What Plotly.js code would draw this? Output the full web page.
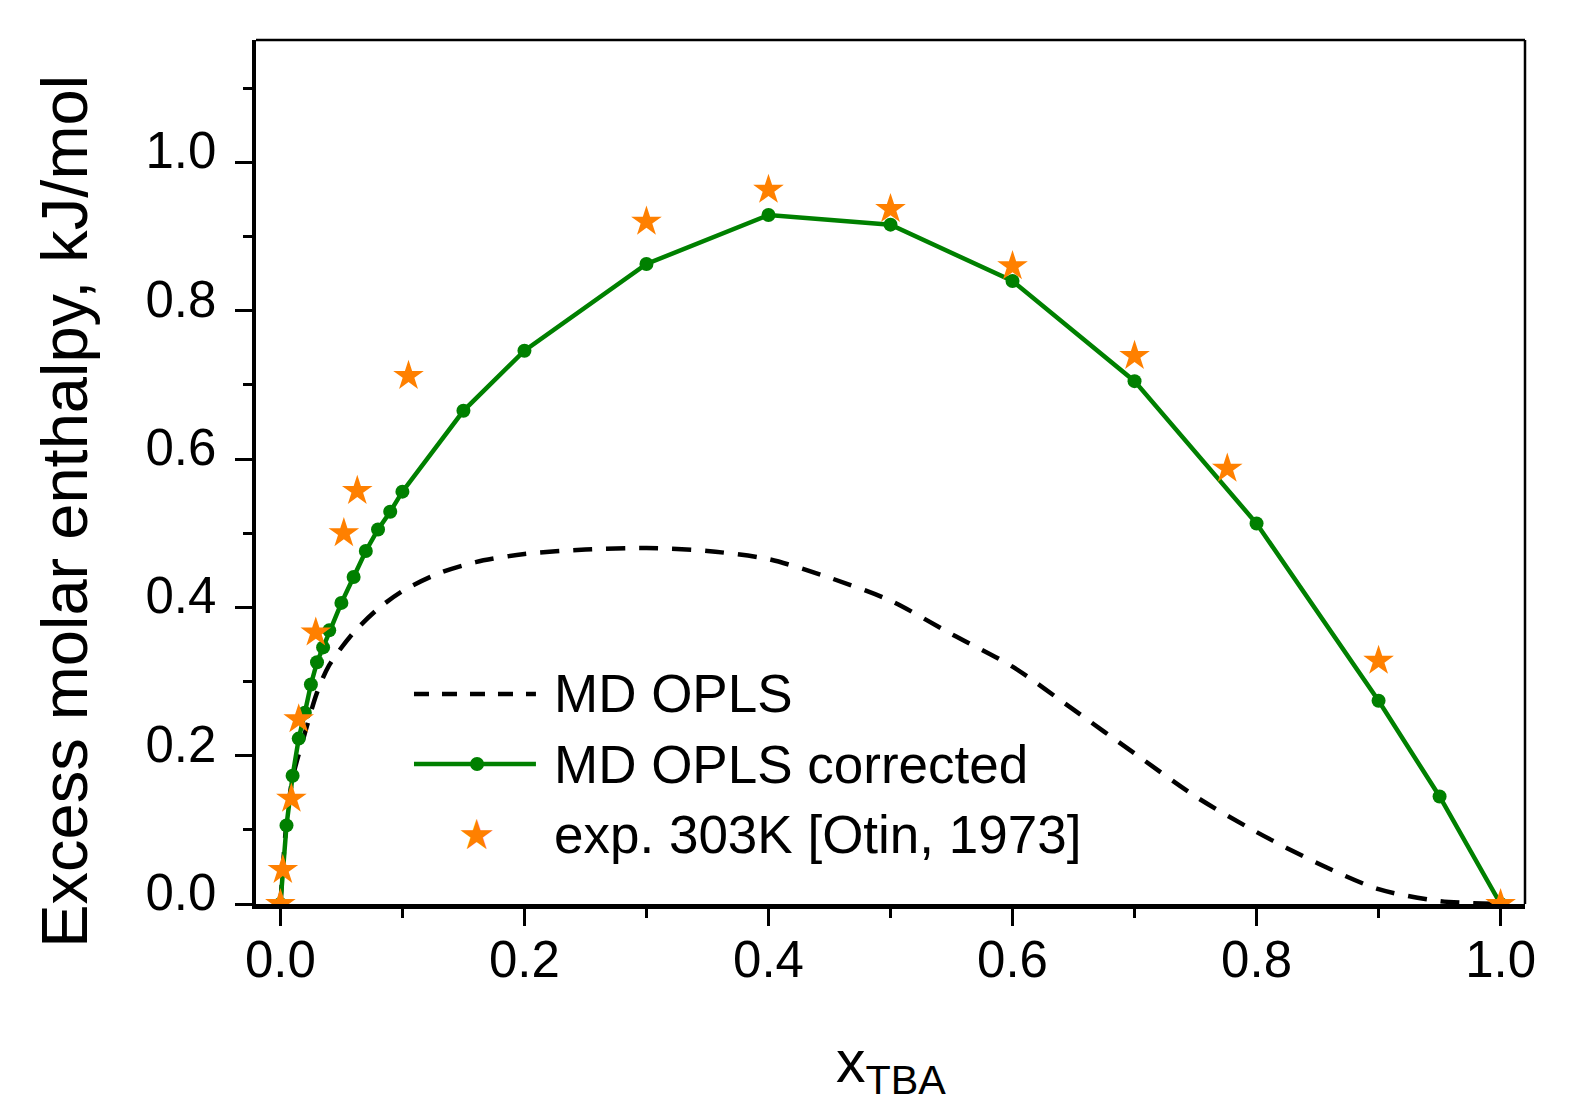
<!DOCTYPE html>
<html><head><meta charset="utf-8">
<script src="https://cdn.plot.ly/plotly-3.0.1.min.js"></script>
<style>html,body{margin:0;padding:0;background:#fff;}#chart{width:1577px;height:1106px;}</style>
</head><body><div id="chart"></div>
<script>
// ---- data ----
const seriesNames = ['MD OPLS', 'MD OPLS corrected', 'exp. 303K [Otin, 1973]'];

const oplsX = [0, 0.005, 0.01, 0.02, 0.03, 0.04, 0.06, 0.08, 0.1, 0.13, 0.16, 0.2, 0.25, 0.3, 0.35, 0.4, 0.45, 0.5, 0.55, 0.6, 0.65, 0.7, 0.75, 0.8, 0.85, 0.9, 0.95, 1.0];
const oplsY = [0, 0.11, 0.17, 0.23, 0.285, 0.322, 0.366, 0.398, 0.422, 0.446, 0.461, 0.472, 0.478, 0.480, 0.476, 0.465, 0.440, 0.409, 0.364, 0.320, 0.262, 0.203, 0.145, 0.097, 0.055, 0.020, 0.004, 0];

const corrX = [0, 0.005, 0.01, 0.015, 0.02, 0.025, 0.03, 0.035, 0.04, 0.05, 0.06, 0.07, 0.08, 0.09, 0.1, 0.15, 0.2, 0.3, 0.4, 0.5, 0.6, 0.7, 0.8, 0.9, 0.95, 1.0];
const corrY = [0, 0.106, 0.173, 0.223, 0.258, 0.296, 0.326, 0.346, 0.369, 0.406, 0.441, 0.476, 0.505, 0.529, 0.556, 0.665, 0.746, 0.863, 0.929, 0.916, 0.840, 0.705, 0.513, 0.274, 0.145, 0];

const expX = [0, 0.002, 0.009, 0.015, 0.029, 0.052, 0.063, 0.105, 0.3, 0.4, 0.5, 0.6, 0.7, 0.776, 0.9, 1.0];
const expY = [0, 0.046, 0.142, 0.249, 0.366, 0.500, 0.557, 0.712, 0.920, 0.963, 0.937, 0.860, 0.739, 0.587, 0.328, 0];

const xTickVals = [0, 0.2, 0.4, 0.6, 0.8, 1.0];
const yTickVals = [0, 0.2, 0.4, 0.6, 0.8, 1.0];
const xTitle = 'x<sub>TBA</sub>';
const yTitle = 'Excess molar enthalpy, kJ/mol';

// ---- styles ----
const FONT = 'Liberation Sans, Arial, Helvetica, sans-serif';
const GREEN = 'rgb(0,128,0)';
const ORANGE = 'rgb(255,128,0)';
const DASH = '19px,14px';

const traces = [
  {x: oplsX, y: oplsY, type: 'scatter', mode: 'lines', name: seriesNames[0],
   line: {color: 'black', width: 4.5, dash: DASH, shape: 'spline', smoothing: 0.8}, showlegend: false},
  {x: corrX, y: corrY, type: 'scatter', mode: 'lines+markers', name: seriesNames[1],
   line: {color: GREEN, width: 4.5}, marker: {color: GREEN, size: 14}, showlegend: false},
  {x: expX, y: expY, type: 'scatter', mode: 'markers', name: seriesNames[2],
   marker: {color: ORANGE, size: 23, symbol: 'star', line: {width: 0}}, showlegend: false}
];

// legend geometry (paper coords)
const lgX0 = 0.1245, lgX1 = 0.2206, lgMid = 0.1742, lgText = 0.2336;
const lgRows = [0.2431, 0.162, 0.0804];

const layout = {
  width: 1577, height: 1106,
  margin: {l: 256, r: 52, t: 40, b: 202, pad: 0},
  paper_bgcolor: 'white', plot_bgcolor: 'white',
  font: {family: FONT, color: 'black', size: 50},
  showlegend: false,
  xaxis: {
    range: [-0.02, 1.02], showgrid: false, zeroline: false,
    showline: true, linecolor: 'black', linewidth: 4.5,
    tickmode: 'array', tickvals: xTickVals, tickformat: '.1f',
    ticks: 'outside', ticklen: 17, tickwidth: 3, tickcolor: 'black',
    ticklabelstandoff: -10,
    tickfont: {family: FONT, size: 51, color: 'black'},
    minor: {dtick: 0.1, ticks: 'outside', ticklen: 9, tickwidth: 3, tickcolor: 'black', showgrid: false}
  },
  yaxis: {
    range: [0, 1.165], showgrid: false, zeroline: false,
    showline: true, linecolor: 'black', linewidth: 4.5,
    tickmode: 'array', tickvals: yTickVals, tickformat: '.1f',
    ticks: 'outside', ticklen: 17, tickwidth: 3, tickcolor: 'black',
    ticklabelstandoff: 8, ticklabelshift: -12,
    tickfont: {family: FONT, size: 51, color: 'black'},
    minor: {dtick: 0.1, ticks: 'outside', ticklen: 9, tickwidth: 3, tickcolor: 'black', showgrid: false}
  },
  shapes: [
    {type: 'line', xref: 'paper', yref: 'paper', x0: 0, x1: 1, y0: 1, y1: 1, line: {color: 'black', width: 2.5}},
    {type: 'line', xref: 'paper', yref: 'paper', x0: 1, x1: 1, y0: 0, y1: 1, line: {color: 'black', width: 2.5}},
    {type: 'line', xref: 'paper', yref: 'paper', x0: lgX0, x1: lgX1, y0: lgRows[0], y1: lgRows[0], line: {color: 'black', width: 4.5, dash: '15px,13px'}},
    {type: 'line', xref: 'paper', yref: 'paper', x0: lgX0, x1: lgX1, y0: lgRows[1], y1: lgRows[1], line: {color: GREEN, width: 4.5}},
    {type: 'circle', xref: 'paper', yref: 'paper', xsizemode: 'pixel', ysizemode: 'pixel',
     xanchor: lgMid, yanchor: lgRows[1], x0: -7, x1: 7, y0: -7, y1: 7,
     fillcolor: GREEN, line: {width: 0}}
  ],
  annotations: [
    {xref: 'paper', yref: 'paper', x: -0.151, y: 0.4543, xanchor: 'center', yanchor: 'middle',
     text: yTitle, textangle: -90, showarrow: false, font: {family: FONT, size: 65, color: 'black'}},
    {xref: 'paper', yref: 'paper', x: 0.5, y: -0.142, xanchor: 'center', yanchor: 'top',
     text: xTitle, showarrow: false, font: {family: FONT, size: 59, color: 'black'}},
    {xref: 'paper', yref: 'paper', x: lgText, y: lgRows[0], xanchor: 'left', yanchor: 'middle',
     text: seriesNames[0], showarrow: false, font: {family: FONT, size: 53, color: 'black'}},
    {xref: 'paper', yref: 'paper', x: lgText, y: lgRows[1], xanchor: 'left', yanchor: 'middle',
     text: seriesNames[1], showarrow: false, font: {family: FONT, size: 53, color: 'black'}},
    {xref: 'paper', yref: 'paper', x: lgText, y: lgRows[2], xanchor: 'left', yanchor: 'middle',
     text: seriesNames[2], showarrow: false, font: {family: FONT, size: 53, color: 'black'}},
    {xref: 'paper', yref: 'paper', x: lgMid, y: lgRows[2], xanchor: 'center', yanchor: 'middle',
     text: '★', showarrow: false, font: {family: 'DejaVu Sans', size: 42, color: ORANGE}}
  ]
};

Plotly.newPlot('chart', traces, layout, {displayModeBar: false, staticPlot: true});
</script>
</body></html>
